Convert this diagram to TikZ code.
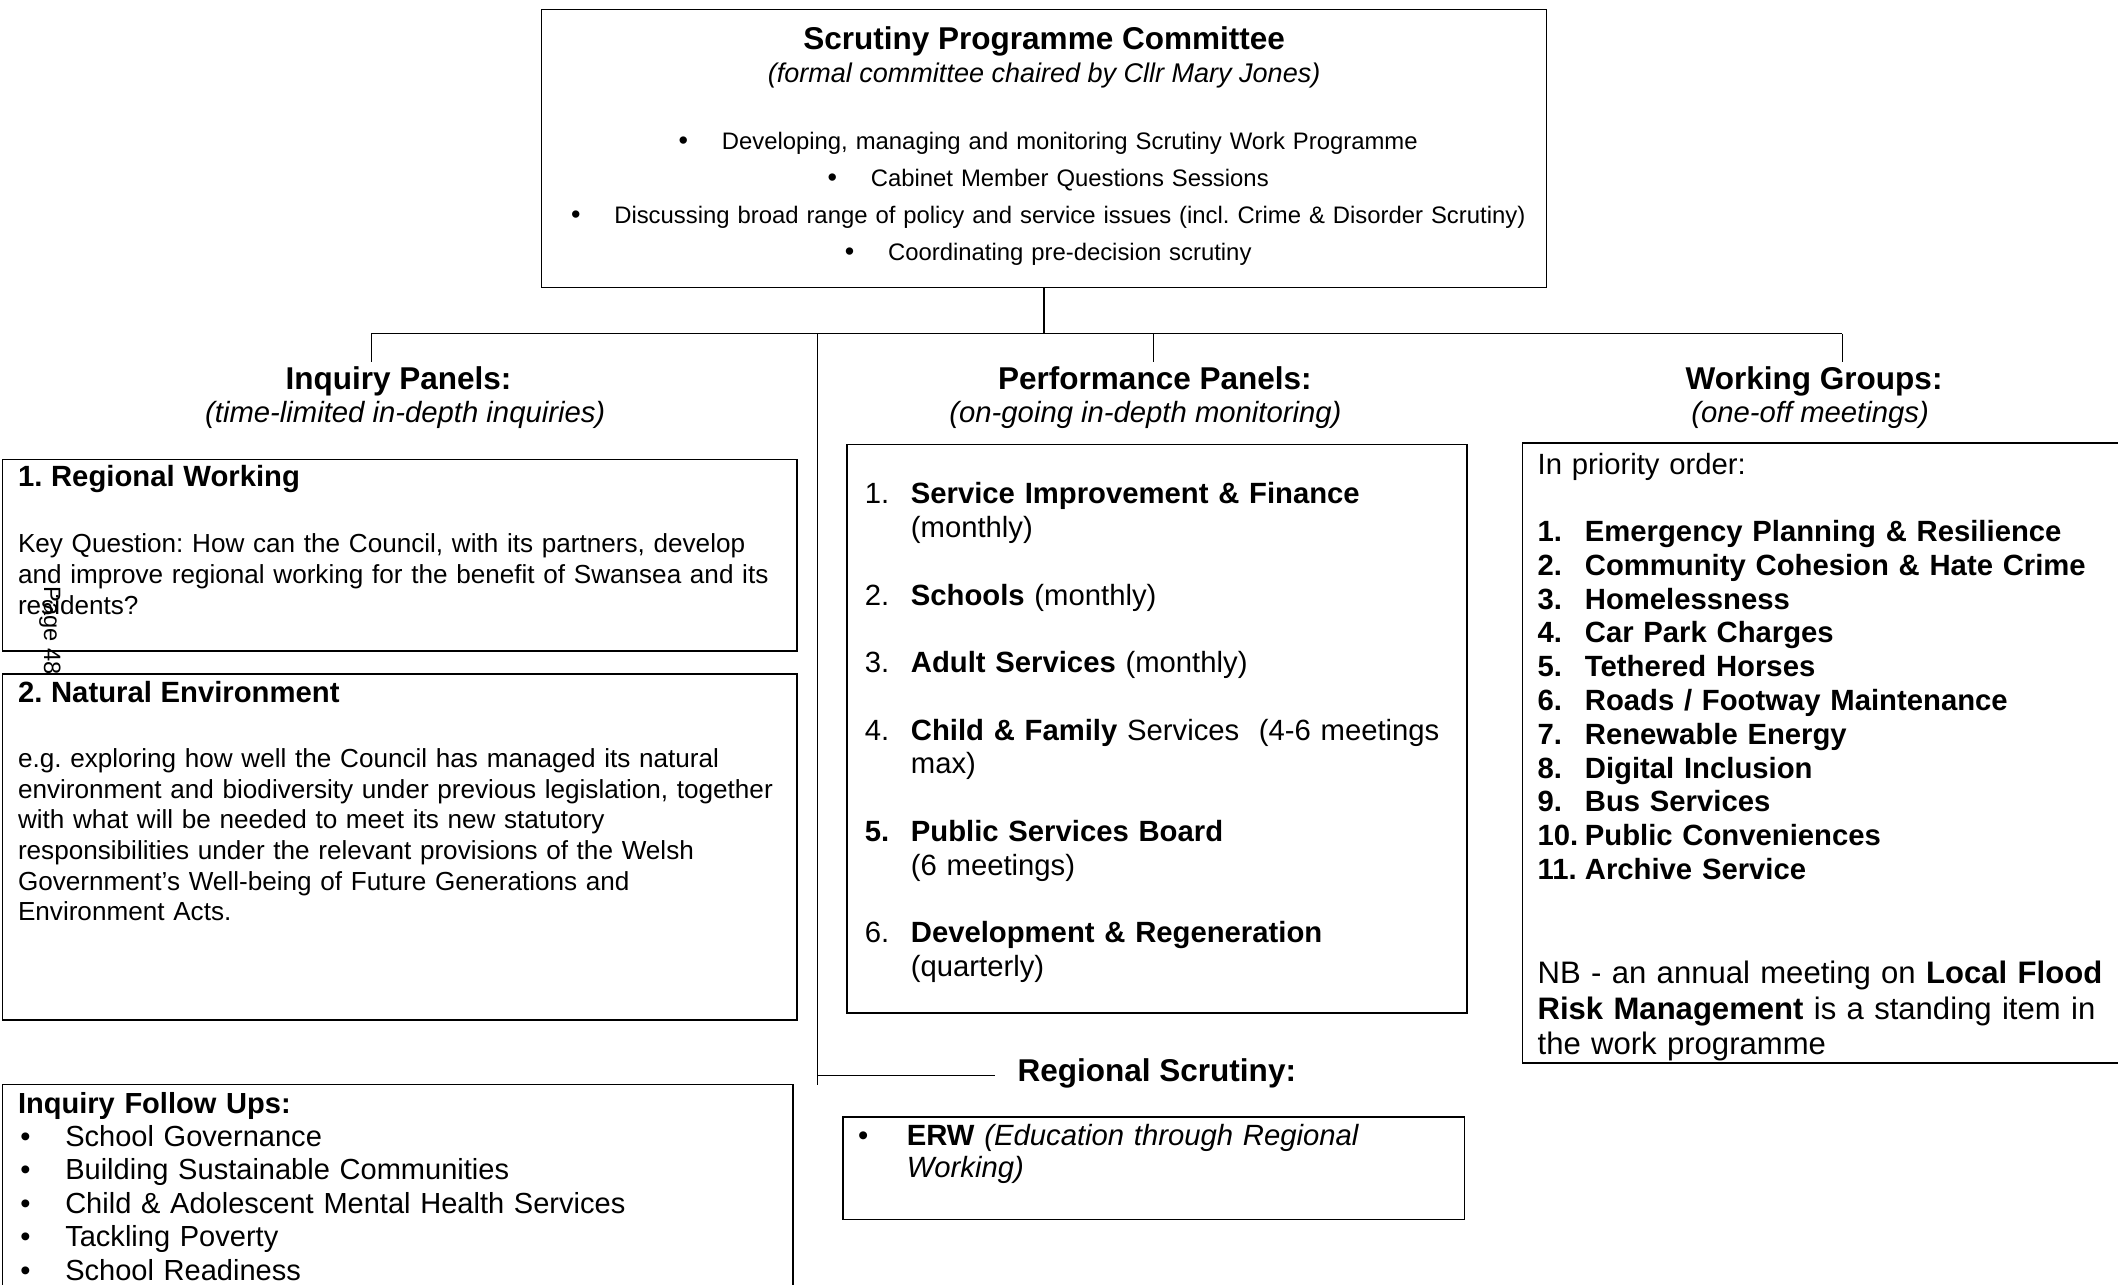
\documentclass[tikz,border=0pt]{standalone}
\usepackage{fontspec}
\setmainfont{Liberation Sans}
\usetikzlibrary{fit}
\frenchspacing
\newcommand{\sizeto}[2]{\fontsize{#1}{#2}\selectfont}
\newcommand{\blt}{{\sizeto{12}{12}\textbullet}\hspace{15pt}}
\begin{document}
\begin{tikzpicture}[x=0.6pt, y=-0.6pt,
  box/.style={draw, line width=0.6pt, inner sep=0pt},
  body/.style={anchor=base west, inner sep=0pt, align=left},
  head/.style={anchor=base, inner sep=0pt, font=\sizeto{14}{16}\bfseries},
  sub/.style={anchor=base, inner sep=0pt, font=\sizeto{13}{15}\itshape},
  link/.style={line width=0.6pt}]
\useasboundingbox (0,0) rectangle (1568,951);
% committee
\node[box, fit={(401,7) (1145,213)}] (spc) {};
\node[head] (spcT) at (773,37) {Scrutiny Programme Committee};
\node[sub, font=\sizeto{12}{14}\itshape] (spcS) at (773,61) {(formal committee chaired by Cllr Mary Jones)};
\node[anchor=base, inner sep=0pt, align=center, text width=740*0.6pt, font=\sizeto{10.6}{16.4}] (spcB) at (776,111)
  {\blt Developing, managing and monitoring Scrutiny Work Programme\\
   \blt Cabinet Member Questions Sessions\\
   \blt Discussing broad range of policy and service issues (incl. Crime \& Disorder Scrutiny)\\
   \blt Coordinating pre-decision scrutiny};
% panel headings
\node[head] (ipH) at (295,288) {Inquiry Panels:};
\node[sub] (ipS) at (300,313) {(time-limited in-depth inquiries)};
\node[head] (ppH) at (855,288) {Performance Panels:};
\node[sub] (ppS) at (848,313) {(on-going in-depth monitoring)};
\node[head] (wgH) at (1343,288) {Working Groups:};
\node[sub] (wgS) at (1340,313) {(one-off meetings)};
\node[head, anchor=base west] (rs) at (753,801) {Regional Scrutiny:};
% tree
\coordinate (busL) at (275,247);
\coordinate (busR) at (1364,247);
\coordinate (hub) at (spc.south |- busL);
\coordinate (busM) at (605,247);
\coordinate (stem) at (605,803);
\coordinate (rsJ) at (605,796);
\coordinate (dropL) at (275,268);
\coordinate (dropM) at (854,268);
\coordinate (dropR) at (1364,268);
\draw[link] (spc.south) -- (hub);
\draw[link] (busL) -- (busR);
\draw[link] (busL) -- (dropL);
\draw[link] (busL -| dropM) -- (dropM);
\draw[link] (busR) -- (dropR);
\draw[link] (busM) -- (stem);
\draw[link, shorten >=10pt] (rsJ) -- (rsJ -| rs.west);
% inquiry panels
\node[box, fit={(2,340) (590,482)}] (rw) {};
\node[body, text width=620*0.6pt, font=\sizeto{11.6}{13.8}] (rwT) at (13,360)
  {{\sizeto{13}{13.8}\bfseries 1. Regional Working}\\[15.6pt]
   Key Question: How can the Council, with its partners, develop\\
   and improve regional working for the benefit of Swansea and its\\
   residents?};
\node[box, fit={(2,499) (590,755)}] (ne) {};
\node[body, text width=620*0.6pt, font=\sizeto{11.6}{13.6}] (neT) at (13,520)
  {{\sizeto{13}{13.6}\bfseries 2. Natural Environment}\\[15.4pt]
   e.g. exploring how well the Council has managed its natural\\
   environment and biodiversity under previous legislation, together\\
   with what will be needed to meet its new statutory\\
   responsibilities under the relevant provisions of the Welsh\\
   Government's Well-being of Future Generations and\\
   Environment Acts.};
\node[rotate=-90, inner sep=0pt, font=\sizeto{10.5}{12}] (pg) at (37,467) {Page 48};
\node[box, fit={(2,803) (587,990)}] (fu) {};
\node[body, text width=570*0.6pt, font=\sizeto{12.9}{14.85}] (fuT) at (13,824)
  {\textbf{Inquiry Follow Ups:}\\
   \hspace*{1pt}\makebox[20pt][l]{\textbullet}School Governance\\
   \hspace*{1pt}\makebox[20pt][l]{\textbullet}Building Sustainable Communities\\
   \hspace*{1pt}\makebox[20pt][l]{\textbullet}Child \& Adolescent Mental Health Services\\
   \hspace*{1pt}\makebox[20pt][l]{\textbullet}Tackling Poverty\\
   \hspace*{1pt}\makebox[20pt][l]{\textbullet}School Readiness};
% performance panels
\node[box, fit={(627,329) (1086,750)}] (pp) {};
\node[body, text width=440*0.6pt, font=\sizeto{13}{15}] (ppT) at (640,373)
  {\makebox[20.4pt][l]{1.}\textbf{Service Improvement \& Finance}\\
   \hspace*{20.4pt}(monthly)\\[15pt]
   \makebox[20.4pt][l]{2.}\textbf{Schools} (monthly)\\[15pt]
   \makebox[20.4pt][l]{3.}\textbf{Adult Services} (monthly)\\[15pt]
   \makebox[20.4pt][l]{4.}\textbf{Child \& Family} Services\ \ (4-6 meetings\\
   \hspace*{20.4pt}max)\\[15pt]
   \makebox[20.4pt][l]{\textbf{5.}}\textbf{Public Services Board}\\
   \hspace*{20.4pt}(6 meetings)\\[15pt]
   \makebox[20.4pt][l]{6.}\textbf{Development \& Regeneration}\\
   \hspace*{20.4pt}(quarterly)};
% regional scrutiny
\node[box, fit={(624,827) (1084,903)}] (erw) {};
\node[body, text width=440*0.6pt, font=\sizeto{13}{14.4}] (erwT) at (635,848)
  {\makebox[21.6pt][l]{\textbullet}\textbf{ERW} \textit{(Education through Regional}\\
   \hspace*{21.6pt}\textit{Working)}};
% working groups
\node[box, fit={(1127,328) (1590,787)}] (wg) {};
\node[body, text width=430*0.6pt, font=\sizeto{13}{15}] (wgT) at (1138,351)
  {In priority order:\\[15pt]
   \bfseries
   \makebox[21pt][l]{1.}Emergency Planning \& Resilience\\
   \makebox[21pt][l]{2.}Community Cohesion \& Hate Crime\\
   \makebox[21pt][l]{3.}Homelessness\\
   \makebox[21pt][l]{4.}Car Park Charges\\
   \makebox[21pt][l]{5.}Tethered Horses\\
   \makebox[21pt][l]{6.}Roads / Footway Maintenance\\
   \makebox[21pt][l]{7.}Renewable Energy\\
   \makebox[21pt][l]{8.}Digital Inclusion\\
   \makebox[21pt][l]{9.}Bus Services\\
   \makebox[21pt][l]{10.}Public Conveniences\\
   \makebox[21pt][l]{11.}Archive Service};
\node[body, text width=430*0.6pt, font=\sizeto{13.8}{15.9}] (wgN) at (1138,728)
  {NB - an annual meeting on \textbf{Local Flood}\\
   \textbf{Risk Management} is a standing item in\\
   the work programme};
\end{tikzpicture}
\end{document}
